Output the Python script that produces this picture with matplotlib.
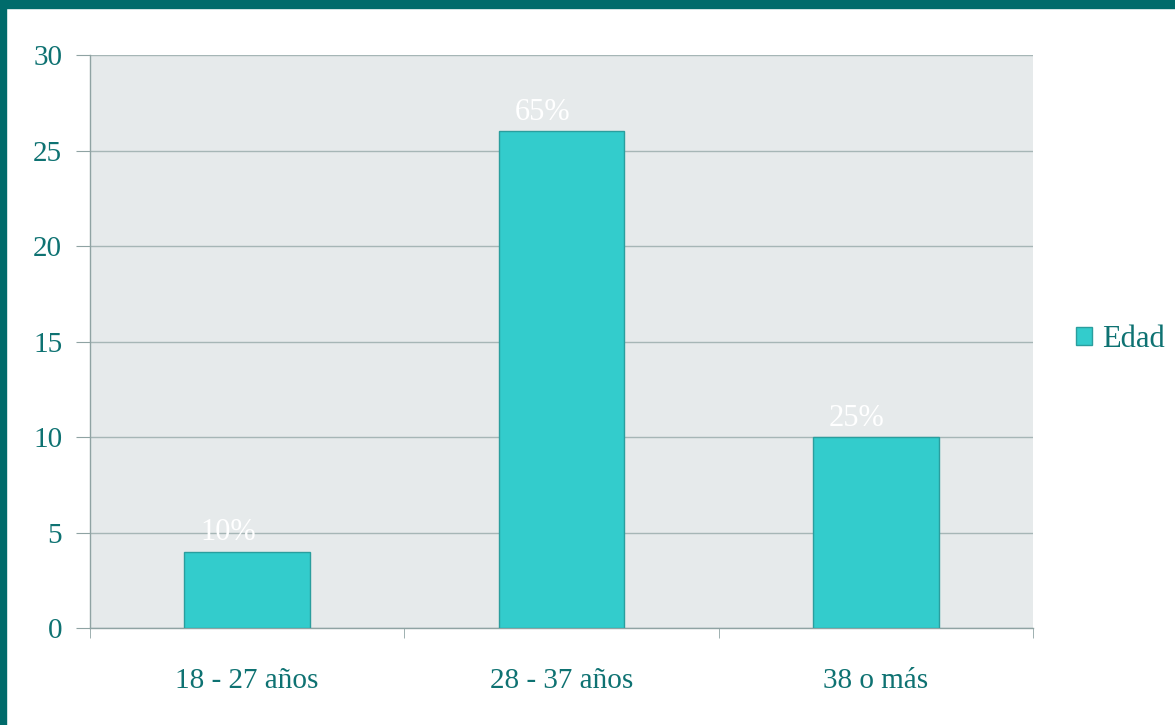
import matplotlib.pyplot as plt
from matplotlib.patches import Rectangle

categories = ['18 - 27 años', '28 - 37 años', '38 o más']
counts = [4, 26, 10]
labels = ['10%', '65%', '25%']

teal_text = '#0E7272'
bar_color = '#33CCCC'
bar_edge = '#2A9E9E'
grid_color = '#A6B6B6'

plt.rcParams['font.family'] = ['Liberation Serif', 'DejaVu Serif']

fig = plt.figure(figsize=(11.75, 7.25), dpi=100)
fig.patch.set_facecolor('white')

# dark frame strips along the top and left edges
fig.patches.append(Rectangle((0, 0.989), 1, 0.011, transform=fig.transFigure,
                             color='#006B6B', zorder=0))
fig.patches.append(Rectangle((0, 0), 0.0055, 1, transform=fig.transFigure,
                             color='#006B6B', zorder=0))

ax = fig.add_axes([0.0766, 0.1338, 0.8025, 0.7903])
ax.set_facecolor('#E6EAEB')

x = range(len(categories))
bars = ax.bar(x, counts, width=0.4, color=bar_color, edgecolor=bar_edge,
              linewidth=1, zorder=3, label='Edad')

for i, (v, t) in enumerate(zip(counts, labels)):
    ax.annotate(t, (i - 0.06, v), xytext=(0, 3), textcoords='offset points',
                ha='center', va='bottom', color='white', fontsize=22, zorder=4)

ax.set_ylim(0, 30)
ax.set_yticks(range(0, 31, 5))
ax.set_xlim(-0.5, 2.5)
ax.set_xticks(list(x))
ax.set_xticklabels(categories)
ax.set_xticks([-0.5, 0.5, 1.5, 2.5], minor=True)

ax.yaxis.grid(True, color=grid_color, linewidth=1, zorder=1)
ax.set_axisbelow(True)

for s in ['top', 'right']:
    ax.spines[s].set_visible(False)
for s in ['left', 'bottom']:
    ax.spines[s].set_color('#8FA3A3')
    ax.spines[s].set_linewidth(1)

ax.tick_params(axis='y', length=10, color='#8FA3A3', labelcolor=teal_text,
               labelsize=21, pad=10)
ax.tick_params(axis='x', which='major', length=0, labelcolor=teal_text,
               labelsize=21, pad=29)
ax.tick_params(axis='x', which='minor', length=7, color='#8FA3A3')

leg = fig.legend(handles=[bars], labels=['Edad'], loc='center left',
                 bbox_to_anchor=(0.903, 0.532), frameon=False, fontsize=22,
                 handlelength=0.5, handleheight=0.5, handletextpad=0.35,
                 labelcolor=teal_text, borderpad=0)

fig.savefig('out.png', dpi=100)
